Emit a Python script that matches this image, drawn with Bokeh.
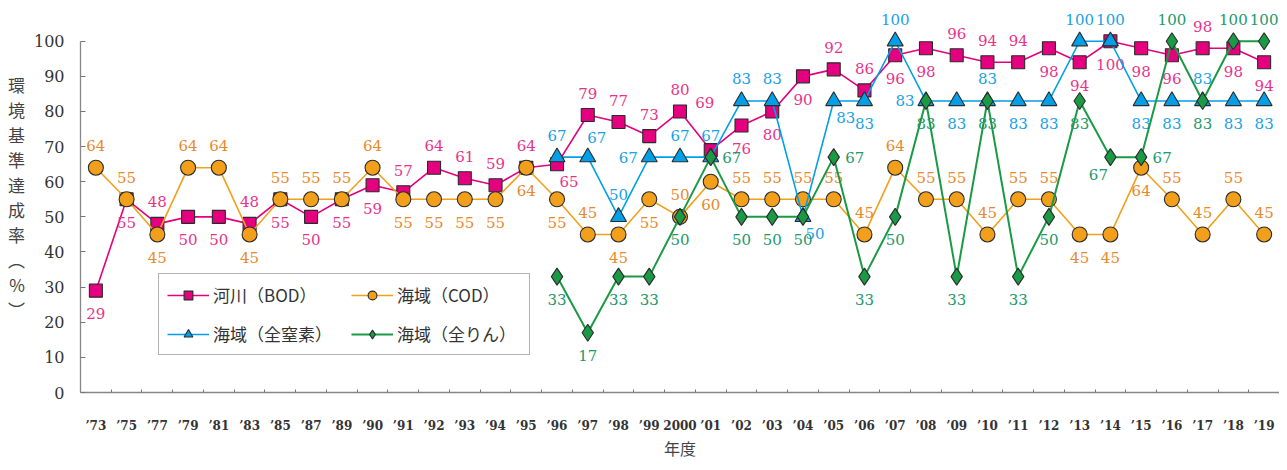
from bokeh.plotting import figure
from bokeh.models import ColumnDataSource, Range1d, FixedTicker, Legend, LegendItem
from bokeh.core.properties import value
from bokeh.embed import file_html
from bokeh.resources import INLINE

# ---- data -------------------------------------------------------------
years = ["’73", "’75", "’77", "’79", "’81", "’83", "’85", "’87", "’89",
         "’90", "’91", "’92", "’93", "’94", "’95", "’96", "’97", "’98", "’99",
         "2000", "’01", "’02", "’03", "’04", "’05", "’06", "’07", "’08", "’09",
         "’10", "’11", "’12", "’13", "’14", "’15", "’16", "’17", "’18", "’19"]

river_bod = [29, 55, 48, 50, 50, 48, 55, 50, 55, 59, 57, 64, 61, 59, 64, 65, 79, 77, 73,
             80, 69, 76, 80, 90, 92, 86, 96, 98, 96, 94, 94, 98, 94, 100, 98, 96, 98, 98, 94]
sea_cod = [64, 55, 45, 64, 64, 45, 55, 55, 55, 64, 55, 55, 55, 55, 64, 55, 45, 45, 55,
           50, 60, 55, 55, 55, 55, 45, 64, 55, 55, 45, 55, 55, 45, 45, 64, 55, 45, 55, 45]
# total nitrogen / total phosphorus start in '96
nut_start = "’96"
sea_tn = [67, 67, 50, 67, 67, 67, 83, 83, 50, 83, 83, 100, 83, 83, 83, 83, 83, 100, 100,
          83, 83, 83, 83, 83]
sea_tp = [33, 17, 33, 33, 50, 67, 50, 50, 50, 67, 33, 50, 83, 33, 83, 33, 50, 83, 67,
          67, 100, 83, 100, 100]

y_ticks = [0, 10, 20, 30, 40, 50, 60, 70, 80, 90, 100]

# ---- label placement (a=above, b=below, r=right, l=left ...) ----------
OFF = {"a": (0, -22), "b": (0, 23), "r": (21, 0), "l": (-21, 0),
       "ar": (9, -20), "br": (12, 17), "bl": (-12, 17), "A": (-6, -48)}

bod_pos = ["b", "b", "a", "b", "b", "a", "b", "b", "b", "b", "a", "a", "a", "a", "a", "br",
           "a", "a", "a", "a", "A", "b", "b", "b", "a", "a", "b", "b", "a", "a", "a", "b",
           "b", "b", "b", "b", "a", "b", "b"]
cod_pos = ["a", "a", "b", "a", "a", "b", "a", "a", "a", "a", "b", "b", "b", "b", "b", "b",
           "a", "b", "b", "a", "b", "a", "a", "a", "a", "a", "a", "a", "a", "a", "a", "a",
           "b", "b", "b", "a", "a", "a", "a"]
tn_pos = ["a", "ar", "a", "l", "a", "a", "a", "a", "br", "br", "b", "a", "l", "b", "a", "b",
          "b", "a", "a", "b", "b", "a", "b", "b"]
tp_pos = ["b", "b", "b", "b", "b", "r", "b", "b", "b", "r", "b", "b", "b", "b", "b", "b",
          "b", "b", "bl", "r", "a", "b", "a", "a"]

PINK, PINK_T = "#E4007F", "#E8338A"
ORANGE, ORANGE_T = "#F2A01C", "#E8892C"
BLUE, BLUE_T = "#00A0E9", "#18A2E6"
GREEN, GREEN_T = "#1B9A46", "#22996A"
EDGE = "#2b2b2b"
SERIF = "DejaVu Serif"
JP = "Noto Sans CJK JP"

# ---- figure -----------------------------------------------------------
p = figure(width=1279, height=462, output_backend="svg", toolbar_location=None,
           x_range=Range1d(-0.5, len(years) - 0.5), y_range=Range1d(0, 111.6),
           min_border_left=80, min_border_right=0, min_border_top=0, min_border_bottom=68)
p.outline_line_color = None
p.grid.visible = False
p.background_fill_color = "white"
p.border_fill_color = "white"

xi = list(range(len(years)))
s0 = years.index(nut_start)
xn = list(range(s0, len(years)))


def series(xs, ys, pos, line_color, text_color, marker, size, lw, label):
    src = ColumnDataSource(dict(
        x=xs, y=ys, t=[str(v) for v in ys],
        dx=[OFF[k][0] for k in pos], dy=[OFF[k][1] for k in pos]))
    ln = p.line("x", "y", source=src, line_color=line_color, line_width=lw)
    mk = p.scatter("x", "y", source=src, marker=marker, size=size,
                   fill_color=line_color, line_color=EDGE, line_width=1.1)
    p.text("x", "y", text="t", x_offset="dx", y_offset="dy", source=src,
           text_color=text_color, text_font=value(SERIF), text_font_size="15px",
           text_align="center", text_baseline="middle")
    return LegendItem(label=label, renderers=[ln, mk])


it_bod = series(xi, river_bod, bod_pos, PINK, PINK_T, "square", 13, 1.6, "河川（BOD）")
it_cod = series(xi, sea_cod, cod_pos, ORANGE, ORANGE_T, "circle", 15, 1.6, "海域（COD）")
it_tn = series(xn, sea_tn, tn_pos, BLUE, BLUE_T, "triangle", 16, 1.6, "海域（全窒素）")
it_tp = series(xn, sea_tp, tp_pos, GREEN, GREEN_T, "diamond", 17, 2.0, "海域（全りん）")

# ---- axes -------------------------------------------------------------
xa = p.xaxis[0]
xa.ticker = FixedTicker(ticks=xi, minor_ticks=[i + 0.5 for i in range(len(years) - 1)])
xa.major_label_overrides = {i: y for i, y in enumerate(years)}
xa.major_tick_in = 0
xa.major_tick_out = 0
xa.minor_tick_in = 3
xa.minor_tick_out = 0
xa.minor_tick_line_color = "#777777"
xa.axis_line_color = "#888888"
xa.axis_line_width = 1.3
xa.major_label_text_font = SERIF
xa.major_label_text_font_size = "12px"
xa.major_label_text_font_style = "bold"
xa.major_label_text_color = "#333333"
xa.major_label_standoff = 26
xa.axis_label = "年度"
xa.axis_label_text_font = JP
xa.axis_label_text_font_size = "16px"
xa.axis_label_text_font_style = "normal"
xa.axis_label_text_color = "#444444"
xa.axis_label_text_line_height = 1.0
xa.axis_label_standoff = 0

ya = p.yaxis[0]
ya.ticker = FixedTicker(ticks=y_ticks)
ya.bounds = (0, 100)
ya.major_tick_in = 5
ya.major_tick_out = 0
ya.minor_tick_in = 0
ya.minor_tick_out = 0
ya.axis_line_color = "#888888"
ya.axis_line_width = 1.3
ya.major_tick_line_color = "#777777"
ya.major_label_text_font = SERIF
ya.major_label_text_font_size = "16px"
ya.major_label_text_color = "#333333"
ya.major_label_standoff = 16
ya.axis_label = "\n".join(["環", "境", "基", "準", "達", "成", "率", "︵", "%", "︶"])
ya.axis_label_orientation = "horizontal"
ya.axis_label_text_font = JP
ya.axis_label_text_font_size = "17px"
ya.axis_label_text_font_style = "normal"
ya.axis_label_text_color = "#444444"
ya.axis_label_text_line_height = 1.0
ya.axis_label_standoff = 6

# ---- legend -----------------------------------------------------------
legend = Legend(items=[it_bod, it_tn, it_cod, it_tp], ncols=2, location=(78, 37),
                label_text_font=JP, label_text_font_size="17px",
                label_text_color="#333333", glyph_width=42, glyph_height=22,
                label_height=22, label_width=124, label_standoff=4, spacing=14,
                padding=8, margin=0,
                border_line_color="#666666", border_line_width=1.2,
                background_fill_color="white", background_fill_alpha=1.0)
p.add_layout(legend)

open("out.html", "w").write(file_html(p, INLINE))
